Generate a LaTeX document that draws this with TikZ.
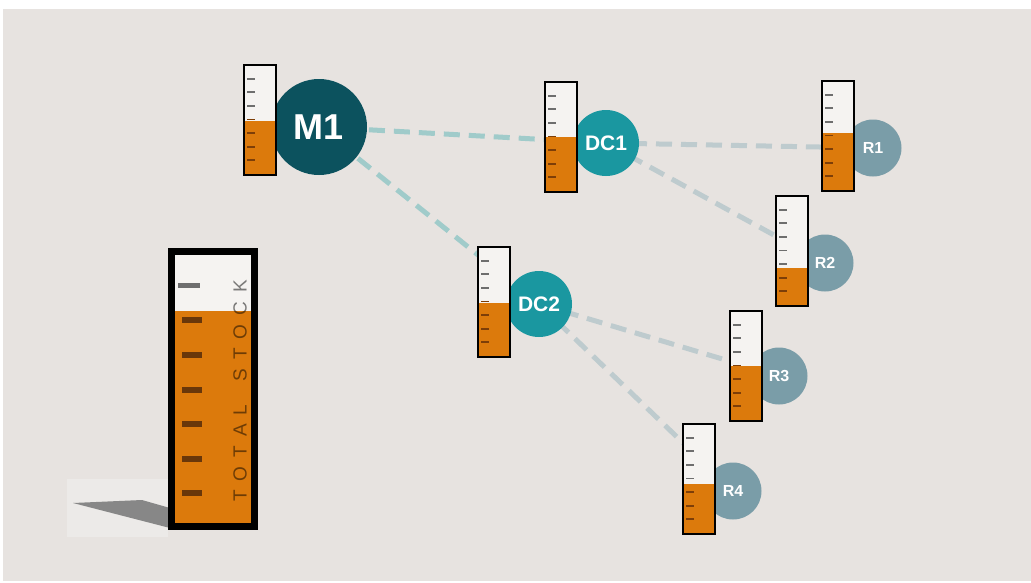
\documentclass[tikz,border=0pt]{standalone}
\usepackage{fontspec}
\setmainfont{Liberation Sans}
\definecolor{bg}{RGB}{231,227,224}
\definecolor{bglight}{RGB}{236,234,232}
\definecolor{tubewhite}{RGB}{245,243,241}
\definecolor{orng}{RGB}{220,122,12}
\definecolor{mteal}{RGB}{12,82,94}
\definecolor{dteal}{RGB}{26,151,160}
\definecolor{rblue}{RGB}{122,157,168}
\definecolor{linkA}{RGB}{160,203,202}
\definecolor{linkB}{RGB}{190,203,206}
\definecolor{tickg}{RGB}{110,110,110}
\definecolor{tickb}{RGB}{125,62,8}
\definecolor{bigtick}{RGB}{105,55,10}
\definecolor{shadowc}{RGB}{135,135,135}
\pgfdeclarelayer{bgl}
\pgfdeclarelayer{lnk}
\pgfsetlayers{bgl,lnk,main}
\tikzset{
  hub/.style={circle, inner sep=0pt, text=white, font=\bfseries},
  mnode/.style={hub, fill=mteal, minimum size=96pt, font=\bfseries\fontsize{36}{40}\selectfont},
  dnode/.style={hub, fill=dteal, minimum size=66pt, font=\bfseries\fontsize{21}{24}\selectfont},
  rnode/.style={hub, fill=rblue, minimum size=57pt, font=\bfseries\fontsize{16}{18}\selectfont},
  linka/.style={linkA, line width=5pt, dash pattern=on 16pt off 9pt},
  linkb/.style={linkB, line width=5pt, dash pattern=on 16pt off 9pt},
}
\newcommand\lsp{\kern9pt}
\newcommand\gauge[3]{%
  \fill[tubewhite] (#1,#2) rectangle (#1+32,#2+110);
  \fill[orng] (#1,#3) rectangle (#1+32,#2+110);
  \foreach \k in {1,...,7}{%
    \pgfmathsetmacro\ty{#2+13.6*\k}%
    \ifdim \ty pt<\dimexpr #3pt-2pt\relax \def\tc{tickg}\else\def\tc{tickb}\fi
    \draw[\tc, line width=1.8pt] (#1+3,\ty) -- (#1+11,\ty);
  }
  \draw[black, line width=1.3pt] (#1,#2) rectangle (#1+32,#2+110);
}
\begin{document}
\begin{tikzpicture}[x=1pt, y=-1pt]
\useasboundingbox (0,0) rectangle (1031,582);
\begin{pgfonlayer}{bgl}
  \fill[white] (0,0) rectangle (1031,582);
  \fill[bg] (3,9) rectangle (1031,581);
  \fill[bglight] (67,479) rectangle (168,537);
  \fill[shadowc] (73,503) -- (142,500) -- (170,508) -- (170,528) -- cycle;
\end{pgfonlayer}

% hubs
\node[mnode] (M1) at (319,127) {M1};
\node[dnode] (DC1) at (606,143) {DC1};
\node[dnode] (DC2) at (539,304) {DC2};
\node[rnode] (R1) at (873,148) {R1};
\node[rnode] (R2) at (825,263) {R2};
\node[rnode] (R3) at (779,376) {R3};
\node[rnode] (R4) at (733,491) {R4};

% connectors
\begin{pgfonlayer}{lnk}
  \draw[linka] (M1.center) -- (DC1.center);
  \draw[linka] (M1.center) -- (DC2.center);
  \draw[linkb] (DC1.center) -- (R1.center);
  \draw[linkb] (DC1.center) -- (R2.center);
  \draw[linkb] (DC2.center) -- (R3.center);
  \draw[linkb] (DC2.center) -- (R4.center);
\end{pgfonlayer}

% gauges
\gauge{244}{65}{121}
\gauge{545}{82}{137}
\gauge{478}{247}{303}
\gauge{822}{81}{133}
\gauge{776}{196}{268}
\gauge{730}{311}{366}
\gauge{683}{424}{484}

% total stock gauge
\fill[tubewhite] (175,255) rectangle (251,523);
\fill[orng] (175,311) rectangle (251,523);
\fill[tickg] (178,283) rectangle (200,288);
\foreach \yy in {320,355,390,424,459,493}{
  \fill[bigtick] (182,\yy-3) rectangle (202,\yy+3);
}
\node[rotate=90, inner sep=0pt, text=black, text opacity=0.5,
      font=\fontsize{19}{22}\selectfont] (TS) at (240,391)
  {T\lsp O\lsp T\lsp A\lsp L\lsp\ \lsp S\lsp T\lsp O\lsp C\lsp K};
\draw[black, line width=7pt] (171.5,251.5) rectangle (254,526.5);
\end{tikzpicture}
\end{document}
